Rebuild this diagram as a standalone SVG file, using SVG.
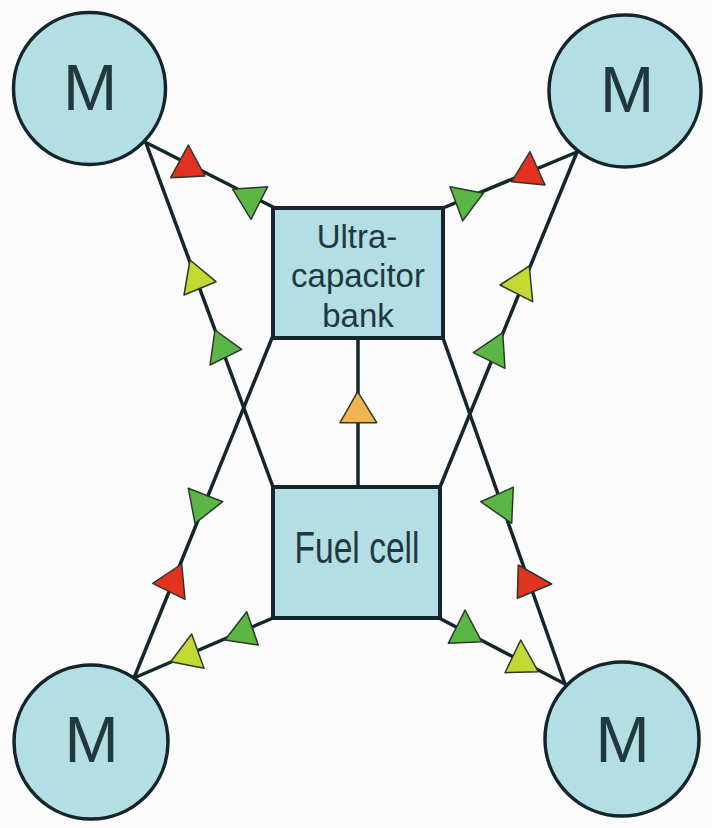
<svg xmlns="http://www.w3.org/2000/svg" width="712" height="828" viewBox="0 0 712 828">
<style>
.bg{fill:#fbfbfb}
.node{fill:#b3dfe4;stroke:#14252c;stroke-width:3.5}
.box{fill:#b3dfe4;stroke:#14252c;stroke-width:4}
.lbl{font-family:"Liberation Sans",Arial,sans-serif;fill:#22383f;text-anchor:middle}
.m{font-size:65px}
.uc{font-size:33px}
.fc{font-size:44px}
.ln{stroke:#14252c;stroke-width:3.5;fill:none;stroke-linecap:round}
.tri{stroke:#2a3a2a;stroke-width:1.5;stroke-linejoin:round}
.r{fill:#e3321f}
.g{fill:#5cb646}
.y{fill:#c4d834}
.o{fill:#f2b44e}
</style>
<rect class="bg" x="0" y="0" width="712" height="828"/>
<g id="connectors">
<line class="ln" x1="145" y1="142" x2="273" y2="207"/>
<line class="ln" x1="146" y1="143" x2="273" y2="487"/>
<line class="ln" x1="272" y1="338" x2="134" y2="678"/>
<line class="ln" x1="273" y1="618" x2="134" y2="678"/>
<line class="ln" x1="577" y1="152" x2="443" y2="208"/>
<line class="ln" x1="577" y1="152" x2="440" y2="487"/>
<line class="ln" x1="443" y1="338" x2="565" y2="684"/>
<line class="ln" x1="439" y1="618" x2="565" y2="684"/>
<line class="ln" x1="358" y1="338" x2="358" y2="487"/>
<polygon class="tri r" points="188.3,145 170.7,177.7 205,176"/>
<polygon class="tri g" points="232.7,189.3 267.7,186.7 251,219.3"/>
<polygon class="tri y" points="190,260 216,281.7 184,295"/>
<polygon class="tri g" points="215,330 241.7,349.3 210,365"/>
<polygon class="tri r" points="530,151.7 545,185 511.7,181.7"/>
<polygon class="tri g" points="450,186.7 483.3,193.3 462.7,220.7"/>
<polygon class="tri y" points="529.3,266 532.7,301.7 500,285"/>
<polygon class="tri g" points="502.7,332.7 505,368.3 473.3,352.7"/>
<polygon class="tri g" points="188.3,488.3 222.7,501.7 195,523.3"/>
<polygon class="tri r" points="181.7,564 185,599.3 152.7,583.3"/>
<polygon class="tri g" points="246.7,611.7 258.3,645 225,640"/>
<polygon class="tri y" points="191.7,634 204,668.3 170.7,661.7"/>
<polygon class="tri g" points="513.3,487.3 511.7,523.3 480.7,501.7"/>
<polygon class="tri r" points="518.3,565 551.7,584 517.3,598.3"/>
<polygon class="tri g" points="465,610 481.7,641.7 448.3,643.3"/>
<polygon class="tri y" points="520.7,640 538.3,671.7 505,672.7"/>
<polygon class="tri o" points="357.7,391.7 376.7,422.7 340,422.7"/>
</g>
<g id="motor-tl">
<circle class="node" cx="89.5" cy="88.5" r="76"/>
<text class="lbl m" x="90" y="110">M</text>
</g>
<g id="motor-tr">
<circle class="node" cx="625" cy="91" r="76"/>
<text class="lbl m" x="627" y="112">M</text>
</g>
<g id="motor-bl">
<circle class="node" cx="91" cy="742" r="77"/>
<text class="lbl m" x="91.5" y="762">M</text>
</g>
<g id="motor-br">
<circle class="node" cx="622" cy="739" r="77"/>
<text class="lbl m" x="622.5" y="762">M</text>
</g>
<g id="ultracapacitor">
<rect class="box" x="273" y="208" width="170" height="130"/>
<text class="lbl uc" x="357" y="248">Ultra-</text>
<text class="lbl uc" x="358" y="287">capacitor</text>
<text class="lbl uc" x="358" y="327">bank</text>
</g>
<g id="fuel-cell">
<rect class="box" x="273" y="487" width="167" height="131"/>
<text class="lbl fc" x="357" y="563" textLength="125" lengthAdjust="spacingAndGlyphs">Fuel cell</text>
</g>
</svg>
